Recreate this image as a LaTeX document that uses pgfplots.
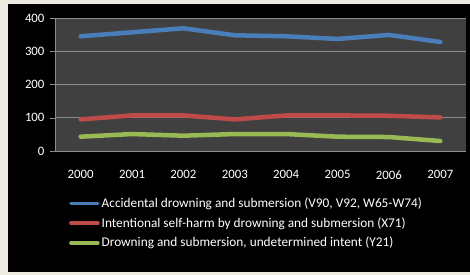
\documentclass[border=0pt]{standalone}
\usepackage{pgfplots}
\pgfplotsset{compat=1.18}
\usepackage{fontspec}
\setmainfont{Carlito}
\definecolor{bgbeige}{HTML}{EEEBE3}
\definecolor{plotbg}{HTML}{404040}
\definecolor{gridc}{HTML}{8C8C8C}
\definecolor{sblue}{HTML}{4A7EBB}
\definecolor{sred}{HTML}{BE4B48}
\definecolor{sgreen}{HTML}{98B954}
\begin{document}
\begin{tikzpicture}[x=1pt,y=1pt]
\fill[bgbeige] (0,0) rectangle (470,275);
\fill[black] (8,3) rectangle (470,271);
\begin{axis}[
  at={(55pt,124pt)}, anchor=south west,
  scale only axis, width=411pt, height=133pt,
  xmin=-0.5, xmax=7.5, ymin=0, ymax=400,
  axis background/.style={fill=plotbg},
  axis line style={gridc},
  axis x line*=bottom, axis y line*=left,
  xtick={0,...,7},
  xticklabels={2000,2001,2002,2003,2004,2005,2006,2007},
  xtick style={draw=none},
  extra x ticks={-0.5,0.5,...,7.5},
  extra x tick labels={},
  extra x tick style={tick style={draw=gridc,thin}, major tick length=5pt, tick align=outside},
  ytick={0,100,200,300,400},
  ymajorgrids, grid style={gridc, line width=0.8pt},
  ytick style={draw=gridc, thin}, major tick length=5pt, tick align=outside,
  tick label style={text=white, font=\fontsize{12.8}{14}\selectfont},
  xticklabel style={yshift=-11pt},
  yticklabel style={xshift=-2pt},
  /pgf/number format/assume math mode=true,
  legend style={at={(axis description cs:0.034,-0.335)}, anchor=north west,
    draw=none, fill=none, text=white, font=\fontsize{13.3}{14}\selectfont,
    row sep=4.5pt, inner sep=0pt},
  legend cell align=left,
  legend image code/.code={\draw[line width=3.5pt, #1] (0pt,0pt) -- (27pt,0pt);},
  every axis plot/.append style={line width=4.5pt, line join=round, line cap=round},
]
\addplot[sblue] coordinates {(0,345) (1,357) (2,369) (3,348) (4,345) (5,337) (6,349) (7,328)};
\addplot[sred] coordinates {(0,95) (1,107) (2,107) (3,95) (4,107) (5,107) (6,106) (7,101)};
\addplot[sgreen] coordinates {(0,43) (1,51) (2,46) (3,51) (4,51) (5,43) (6,42) (7,30)};
\legend{{Accidental drowning and submersion (V90, V92, W65-W74)},
{Intentional self-harm by drowning and submersion (X71)},
{Drowning and submersion, undetermined intent (Y21)}}
\end{axis}
\pgfresetboundingbox
\path (0,0) rectangle (470,275);
\end{tikzpicture}
\end{document}
